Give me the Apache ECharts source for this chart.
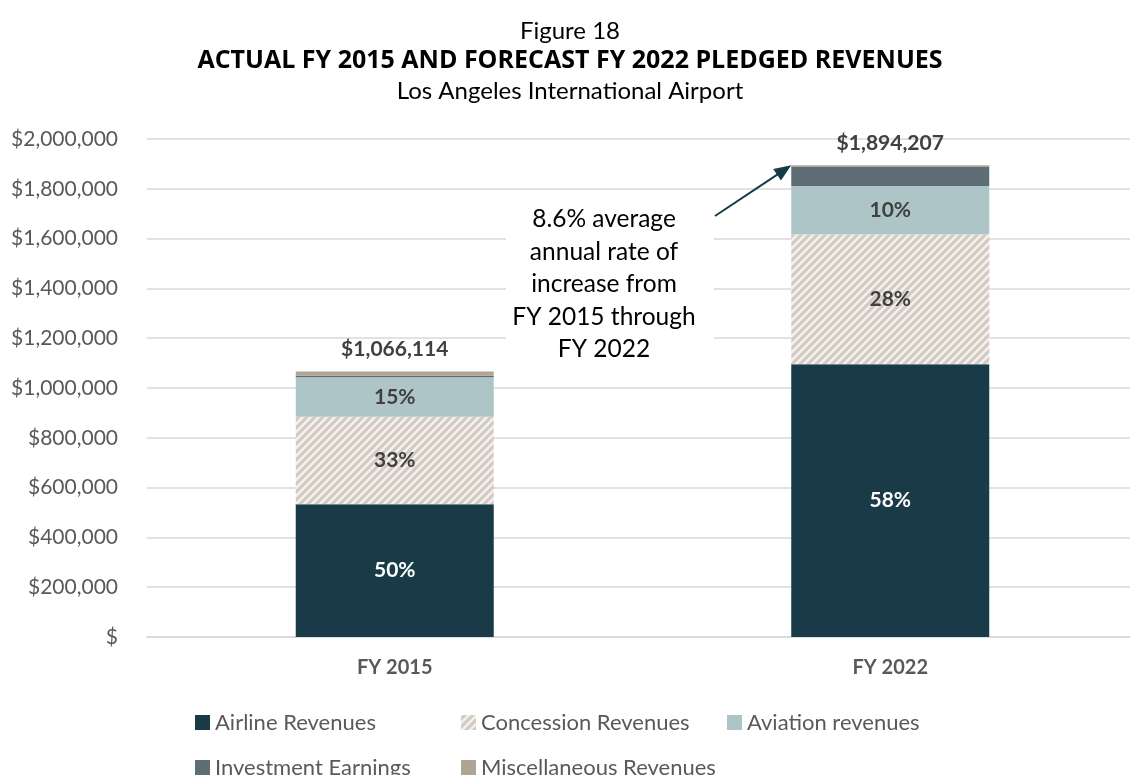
<!DOCTYPE html>
<html>
<head>
<meta charset="utf-8">
<script src="https://cdn.jsdelivr.net/npm/echarts@6/dist/echarts.min.js"></script>
<style>
html, body { margin: 0; padding: 0; background: #fff; overflow: hidden; }
#chart { width: 1140px; height: 775px; }
</style>
</head>
<body>
<div id="chart"></div>
<script>
// data (thousands of $)
var categories = ['FY 2015', 'FY 2022'];
var airline = [533000, 1095000];
var concession = [352000, 522000];
var aviation = [158000, 194000];
var investment = [6000, 77000];
var misc = [17114, 6207];
var airlinePct = ['50%', '58%'];
var concessionPct = ['33%', '28%'];
var aviationPct = ['15%', '10%'];
var totals = categories.map(function (c, i) {
  return airline[i] + concession[i] + aviation[i] + investment[i] + misc[i];
});

var FONT = 'Lato';
var barWidth = 198;

// hatch for concession
var hatch = document.createElement('canvas');
hatch.width = 8;
hatch.height = 8;
var hc = hatch.getContext('2d');
hc.fillStyle = '#d3cbc1';
hc.fillRect(0, 0, 8, 8);
hc.strokeStyle = '#f4f2ee';
hc.lineWidth = 2.4;
hc.beginPath();
hc.moveTo(-1, 9); hc.lineTo(9, -1);
hc.moveTo(-1, 1); hc.lineTo(1, -1);
hc.moveTo(7, 9); hc.lineTo(9, 7);
hc.stroke();

function pctLabel(arr, color) {
  return {
    show: true,
    position: 'inside',
    fontFamily: FONT,
    fontWeight: 'bold',
    fontSize: 21,
    color: color,
    formatter: function (p) { return arr[p.dataIndex]; }
  };
}

var option = {
  animation: false,
  title: [
    { text: 'Figure 18', left: 'center', top: 14,
      textStyle: { fontFamily: FONT, fontSize: 24, fontWeight: 'normal', color: '#000' } },
    { text: 'ACTUAL FY 2015 AND FORECAST FY 2022 PLEDGED REVENUES', left: 'center', top: 43,
      textStyle: { fontFamily: 'Open Sans', fontSize: 25, fontWeight: 'bold', color: '#000' } },
    { text: 'Los Angeles International Airport', left: 'center', top: 74,
      textStyle: { fontFamily: FONT, fontSize: 24, fontWeight: 'normal', color: '#000' } }
  ],
  legend: {
    left: 190,
    top: 700,
    width: 820,
    itemWidth: 15,
    itemHeight: 15,
    itemGap: 10,
    icon: 'rect',
    textStyle: { fontFamily: FONT, fontSize: 22, color: '#595959', width: 236, lineHeight: 35 },
    data: ['Airline Revenues', 'Concession Revenues', 'Aviation revenues',
           'Investment Earnings', 'Miscellaneous Revenues']
  },
  grid: { left: 147, right: 2, top: 139, bottom: 138 },
  xAxis: {
    type: 'category',
    data: categories,
    axisTick: { show: false },
    axisLine: { lineStyle: { color: '#d9d9d9', width: 1.5 } },
    axisLabel: { fontFamily: FONT, fontSize: 20, fontWeight: 'bold', color: '#595959', margin: 21 }
  },
  yAxis: {
    type: 'value',
    min: 0,
    max: 2000000,
    interval: 200000,
    axisLine: { show: false },
    axisTick: { show: false },
    splitLine: { lineStyle: { color: '#d9d9d9', width: 1.5 } },
    axisLabel: {
      fontFamily: FONT, fontSize: 21, color: '#595959', margin: 29,
      formatter: function (v) { return v === 0 ? '$' : '$' + v.toLocaleString('en-US'); }
    }
  },
  series: [
    { name: 'Airline Revenues', type: 'bar', stack: 'rev', barWidth: barWidth,
      data: airline, itemStyle: { color: '#193a47' }, label: pctLabel(airlinePct, '#ffffff') },
    { name: 'Concession Revenues', type: 'bar', stack: 'rev',
      data: concession, itemStyle: { color: { image: hatch, repeat: 'repeat' } },
      label: pctLabel(concessionPct, '#404040') },
    { name: 'Aviation revenues', type: 'bar', stack: 'rev',
      data: aviation, itemStyle: { color: '#adc5c6' }, label: pctLabel(aviationPct, '#404040') },
    { name: 'Investment Earnings', type: 'bar', stack: 'rev',
      data: investment, itemStyle: { color: '#5f6e76' } },
    { name: 'Miscellaneous Revenues', type: 'bar', stack: 'rev',
      data: misc, itemStyle: { color: '#b0a595' },
      label: {
        show: true, position: 'top', distance: 12,
        fontFamily: FONT, fontSize: 21, fontWeight: 'bold', color: '#404040',
        formatter: function (p) { return '$' + totals[p.dataIndex].toLocaleString('en-US'); }
      } }
  ]
};

var chart = echarts.init(document.getElementById('chart'));
chart.setOption(option);

// annotation box + arrow pointing at the FY 2022 bar top
var top22 = chart.convertToPixel({ gridIndex: 0 }, [categories[1], totals[1]]);
var tip = [top22[0] - barWidth / 2, top22[1]];
var start = [715, 216];
var dx = tip[0] - start[0], dy = tip[1] - start[1];
var len = Math.sqrt(dx * dx + dy * dy);
var ux = dx / len, uy = dy / len;
var headLen = 17, headHalf = 7;
var base = [tip[0] - ux * headLen, tip[1] - uy * headLen];

chart.setOption({
  graphic: [
    { type: 'rect', shape: { x: 506, y: 200, width: 208, height: 170 },
      style: { fill: '#fff' }, z: 10 },
    { type: 'text', x: 604, y: 203, z: 11,
      style: {
        text: '8.6% average\nannual rate of\nincrease from\nFY 2015 through\nFY 2022',
        fontFamily: FONT, fontSize: 24.5, lineHeight: 32.5, fill: '#000', align: 'center'
      } },
    { type: 'line', z: 11,
      shape: { x1: start[0], y1: start[1], x2: base[0] + ux * 2, y2: base[1] + uy * 2 },
      style: { stroke: '#173a47', lineWidth: 2 } },
    { type: 'polygon', z: 11,
      shape: { points: [tip, [base[0] - uy * headHalf, base[1] + ux * headHalf],
                        [base[0] + uy * headHalf, base[1] - ux * headHalf]] },
      style: { fill: '#173a47' } }
  ]
});
</script>
</body>
</html>
